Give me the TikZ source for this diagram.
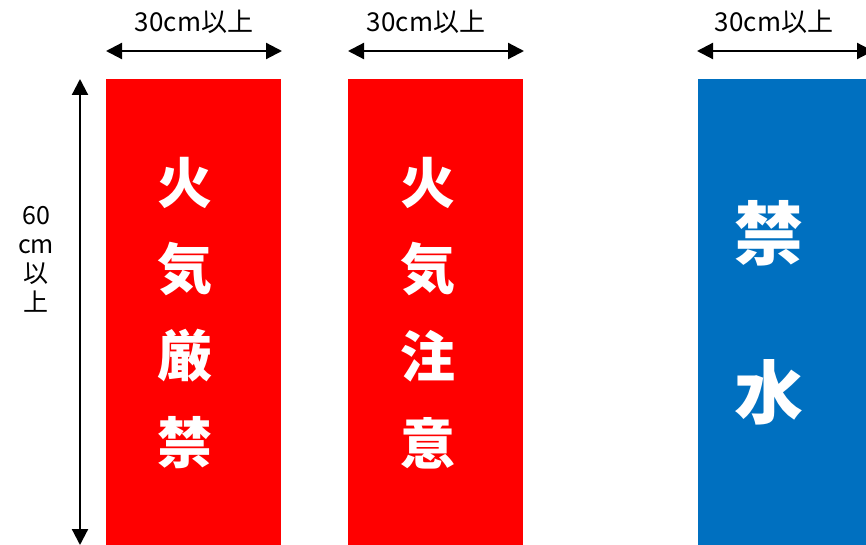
\documentclass[tikz,border=0pt]{standalone}
\usepackage{fontspec}
\usepackage{xcolor}
\usetikzlibrary{arrows.meta}
\newfontfamily\jpfont{Noto Sans CJK JP}
\definecolor{signred}{HTML}{FF0000}
\definecolor{signblue}{HTML}{0070C0}

\begin{document}
\begin{tikzpicture}
   [
   x=1pt, y=-1pt,
   redpanel/.style={rectangle, fill=signred, inner sep=0pt, anchor=north west, minimum width=175pt, minimum height=466pt},
   bluepanel/.style={rectangle, fill=signblue, inner sep=0pt, anchor=north west, minimum width=175pt, minimum height=466pt},
   signchar/.style={text=white, font=\jpfont\bfseries\fontsize{55}{55}\selectfont, inner sep=0pt},
   bigchar/.style={text=white, font=\jpfont\bfseries\fontsize{69}{69}\selectfont, inner sep=0pt},
   sizetext/.style={font=\jpfont\fontsize{26}{26}\selectfont, inner sep=0pt},
   vtext/.style={font=\jpfont\fontsize{25}{29}\selectfont, inner sep=0pt, align=center},
   dimarrow/.style={line width=2.2pt, {Triangle[length=16pt,width=16pt]}-{Triangle[length=16pt,width=16pt]}},
   ]
 \useasboundingbox (0,0) rectangle (866,545);
 \clip (0,0) rectangle (866,545);
 % panels
 \node at (106,79) [redpanel]  (sign1) {};
 \node at (348,79) [redpanel]  (sign2) {};
 \node at (698,79) [bluepanel] (sign3) {};
 % 火気厳禁
 \node at (185,183) [signchar] (c11) {火};
 \node at (185,269) [signchar] (c12) {気};
 \node at (185,356) [signchar] (c13) {厳};
 \node at (185,443) [signchar] (c14) {禁};
 % 火気注意
 \node at (428,183) [signchar] (c21) {火};
 \node at (428,269) [signchar] (c22) {気};
 \node at (428,356) [signchar] (c23) {注};
 \node at (428,443) [signchar] (c24) {意};
 % 禁水
 \node at (769,233) [bigchar] (c31) {禁};
 \node at (769,392) [bigchar] (c32) {水};
 % widths
 \coordinate (w1a) at (106,51);
 \coordinate (w1b) at (282,51);
 \coordinate (w2a) at (348,51);
 \coordinate (w2b) at (524,51);
 \coordinate (w3a) at (697,51);
 \coordinate (w3b) at (873,51);
 \draw[dimarrow] (w1a) -- (w1b);
 \draw[dimarrow] (w2a) -- (w2b);
 \draw[dimarrow] (w3a) -- (w3b);
 \node at (194,22) [sizetext] (t1) {30cm以上};
 \node at (426,22) [sizetext] (t2) {30cm以上};
 \node at (774,22) [sizetext] (t3) {30cm以上};
 % height
 \coordinate (h1a) at (80,79);
 \coordinate (h1b) at (80,545);
 \draw[dimarrow] (h1a) -- (h1b);
 \node at (36,259) [vtext] (t4) {60\\cm\\以\\上};
\end{tikzpicture}
\end{document}
